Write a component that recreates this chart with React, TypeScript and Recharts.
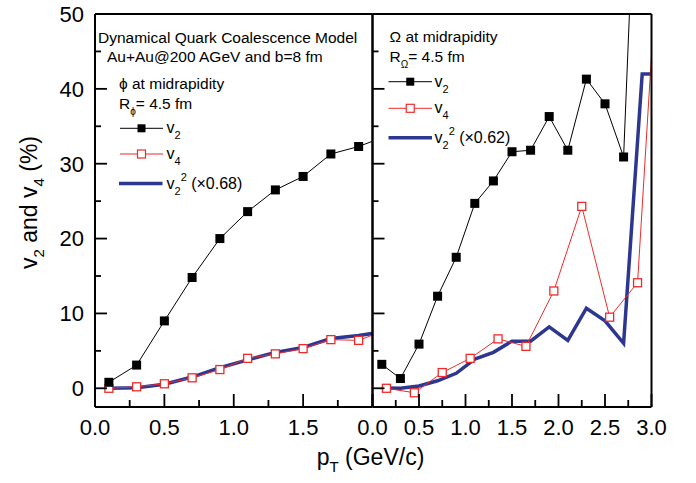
import React from 'react';
import { LineChart, Line, XAxis, YAxis, Legend } from 'recharts';

// phi meson (left panel)
const phiPt = [0.1, 0.3, 0.5, 0.7, 0.9, 1.1, 1.3, 1.5, 1.7, 1.9, 2.1];
const phiV2 = [0.8, 3.1, 9.0, 14.8, 20.0, 23.6, 26.5, 28.3, 31.3, 32.3, 33.7];
const phiV4 = [0.0, 0.2, 0.6, 1.4, 2.5, 4.0, 4.6, 5.3, 6.5, 6.4, 7.8];
const phiV2sq = [0.0, 0.07, 0.55, 1.5, 2.75, 3.8, 4.8, 5.45, 6.65, 7.05, 7.6];

// Omega baryon (right panel)
const omegaPtV2 = [0.1, 0.3, 0.5, 0.7, 0.9, 1.1, 1.3, 1.5, 1.7, 1.9, 2.1, 2.3, 2.5, 2.7, 2.9];
const omegaV2 = [3.2, 1.3, 5.9, 12.3, 17.5, 24.7, 27.7, 31.6, 31.8, 36.3, 31.8, 41.3, 38.0, 30.9, 92];
const omegaPtV2sq = [0.1, 0.3, 0.5, 0.7, 0.9, 1.1, 1.3, 1.5, 1.7, 1.9, 2.1, 2.3, 2.5, 2.7, 2.9, 3.1];
const omegaV2sq = [0.05, 0.0, 0.3, 1.0, 2.0, 3.9, 4.8, 6.3, 6.3, 8.2, 6.4, 10.7, 9.0, 6.0, 42, 42];
const omegaPtV4 = [0.15, 0.45, 0.75, 1.05, 1.35, 1.65, 1.95, 2.25, 2.55, 2.85, 3.15];
const omegaV4 = [0.0, -0.6, 2.1, 4.0, 6.6, 5.6, 13.0, 24.3, 9.5, 14.1, 75];

const yTicks = [0, 5, 10, 15, 20, 25, 30, 35, 40, 45, 50];
const phiXTicks = [0, 0.25, 0.5, 0.75, 1.0, 1.25, 1.5, 1.75, 2.0];
const omegaXTicks = [0, 0.25, 0.5, 0.75, 1.0, 1.25, 1.5, 1.75, 2.0, 2.25, 2.5, 2.75, 3.0];

const FONT = '"Liberation Sans", Arial, sans-serif';
const RED = '#ee2b2b';
const BLUE = '#2e3790';

const rows = (xs: number[], ys: number[]) => xs.map((x, i) => ({ pt: x, v: ys[i] }));

const isMajor = (v: number, step: number) => Math.abs(v / step - Math.round(v / step)) < 1e-6;

type Side = 'bottom' | 'top' | 'left' | 'right';

// inward tick marks, labels outside
const makeTick = (side: Side, step: number, majorLen: number, minorLen: number, label?: (v: number) => string | null) =>
  (props: any) => {
    const { x, y, payload } = props;
    const v = payload.value;
    const len = isMajor(v, step) ? majorLen : minorLen;
    let x2 = x, y2 = y;
    if (side === 'bottom') y2 = y - len;
    if (side === 'top') y2 = y + len;
    if (side === 'left') x2 = x + len;
    if (side === 'right') x2 = x - len;
    const txt = label && isMajor(v, step) ? label(v) : null;
    return (
      <g>
        <line x1={x} y1={y} x2={x2} y2={y2} stroke="#000" strokeWidth={1.8} />
        {txt != null && side === 'bottom' && (
          <text x={x} y={y + 28} textAnchor="middle" fontSize={22} fontFamily={FONT} fill="#000">{txt}</text>
        )}
        {txt != null && side === 'left' && (
          <text x={x - 11} y={y} dy="0.36em" textAnchor="end" fontSize={22} fontFamily={FONT} fill="#000">{txt}</text>
        )}
      </g>
    );
  };

const FilledSquare = (props: any) => {
  const { cx, cy } = props;
  if (cx == null || cy == null || isNaN(cy)) return null;
  return <rect x={cx - 4.5} y={cy - 4.5} width={9} height={9} fill="#000" />;
};

const OpenSquare = (props: any) => {
  const { cx, cy } = props;
  if (cx == null || cy == null || isNaN(cy)) return null;
  return <rect x={cx - 4} y={cy - 4} width={8} height={8} fill="#fff" stroke={RED} strokeWidth={1.3} />;
};

const YTitle = (props: any) => {
  const vb = props.viewBox;
  const cx = vb.x + 2;
  const cy = vb.y + vb.height / 2 - 8;
  return (
    <text transform={`rotate(-90, ${cx}, ${cy})`} x={cx} y={cy} textAnchor="middle" fontSize={23} fontFamily={FONT} fill="#000">
      v<tspan dy={7} fontSize={15}>2</tspan><tspan dy={-7}>{' and v'}</tspan><tspan dy={7} fontSize={15}>4</tspan><tspan dy={-7}>{' (%)'}</tspan>
    </text>
  );
};

const XTitle = (props: any) => {
  const vb = props.viewBox;
  const cx = vb.x + vb.width - 2;
  const cy = vb.y + 58;
  return (
    <text x={cx} y={cy} textAnchor="middle" fontSize={23} fontFamily={FONT} fill="#000">
      p<tspan dy={7} fontSize={15}>T</tspan><tspan dy={-7}>{' (GeV/c)'}</tspan>
    </text>
  );
};

// legend row samples: line + marker + label
const Sample = ({ x1, x2, y, kind }: { x1: number; x2: number; y: number; kind: 'v2' | 'v4' | 'sq' }) => {
  const mid = (x1 + x2) / 2;
  if (kind === 'sq') return <line x1={x1} x2={x2} y1={y} y2={y} stroke={BLUE} strokeWidth={3.5} />;
  return (
    <g>
      <line x1={x1} x2={x2} y1={y} y2={y} stroke={kind === 'v2' ? '#000' : RED} strokeWidth={1} />
      {kind === 'v2'
        ? <rect x={mid - 4} y={y - 4} width={8} height={8} fill="#000" />
        : <rect x={mid - 4} y={y - 4} width={8} height={8} fill="#fff" stroke={RED} strokeWidth={1.2} />}
    </g>
  );
};

const VLabel = ({ x, y, n, sq }: { x: number; y: number; n: string; sq?: string }) => (
  <text x={x} y={y} fontSize={16} fontFamily={FONT} fill="#000">
    v<tspan dy={6} fontSize={11}>{n}</tspan>
    {sq ? (<><tspan dy={-14} fontSize={11}>2</tspan><tspan dy={8}>{' (×' + sq + ')'}</tspan></>) : null}
  </text>
);

const PhiLegend = () => (
  <svg width={276} height={200} style={{ overflow: 'visible' }}>
    <g fontFamily={FONT} fontSize={15.5} fill="#000">
      <text x={3} y={28.5}>Dynamical Quark Coalescence Model</text>
      <text x={12} y={48}>Au+Au@200 AGeV and b=8 fm</text>
      <text x={24} y={74.5}>ϕ at midrapidity</text>
      <text x={24} y={94.5}>R<tspan dy={6} fontSize={10}>ϕ</tspan><tspan dy={-6}>= 4.5 fm</tspan></text>
    </g>
    <Sample x1={25} x2={68} y={114.3} kind="v2" />
    <VLabel x={71.5} y={119} n="2" />
    <Sample x1={25} x2={68} y={140} kind="v4" />
    <VLabel x={71.5} y={145} n="4" />
    <Sample x1={24} x2={67.5} y={169.5} kind="sq" />
    <VLabel x={71.5} y={174.5} n="2" sq="0.68" />
  </svg>
);

const OmegaLegend = () => (
  <svg width={276} height={200} style={{ overflow: 'visible' }}>
    <g fontFamily={FONT} fontSize={15.5} fill="#000">
      <text x={16.5} y={27.7}>Ω at midrapidity</text>
      <text x={16.5} y={47.7}>R<tspan dy={6} fontSize={10}>Ω</tspan><tspan dy={-6}>= 4.5 fm</tspan></text>
    </g>
    <Sample x1={15.5} x2={59} y={67.7} kind="v2" />
    <VLabel x={61.5} y={72.5} n="2" />
    <Sample x1={15.5} x2={59} y={94.3} kind="v4" />
    <VLabel x={61.5} y={99} n="4" />
    <Sample x1={15.5} x2={59} y={123.7} kind="sq" />
    <VLabel x={61.5} y={128.5} n="2" sq="0.62" />
  </svg>
);

const axisLine = { stroke: '#000', strokeWidth: 2 };
const yLabel = (v: number) => String(v);

export default function App() {
  return (
    <div style={{ position: 'absolute', left: 0, top: 0, width: 696, height: 483, background: '#fff' }}>
      <div style={{ position: 'absolute', left: 0, top: 0 }}>
        <LineChart width={696} height={483} margin={{ top: 4, right: 313.5, bottom: 36, left: 35 }}>
          <XAxis xAxisId="x" dataKey="pt" type="number" domain={[0, 2]} allowDataOverflow ticks={phiXTicks} interval={0}
            axisLine={axisLine} tickLine={false} tickSize={0} tickMargin={0} height={40}
            tick={makeTick('bottom', 0.5, 13, 7, (v) => (v < 1.99 ? v.toFixed(1) : null))}
            label={{ content: XTitle }} />
          <XAxis xAxisId="t" orientation="top" type="number" domain={[0, 2]} ticks={phiXTicks} interval={0}
            axisLine={axisLine} tickLine={false} tickSize={0} tickMargin={0} height={10}
            tick={makeTick('top', 0.5, 13, 7)} />
          <YAxis yAxisId="y" type="number" domain={[-2.5, 50]} allowDataOverflow ticks={yTicks} interval={0}
            axisLine={axisLine} tickLine={false} tickSize={0} tickMargin={0} width={60}
            tick={makeTick('left', 10, 12, 6, yLabel)}
            label={{ content: YTitle }} />
          <YAxis yAxisId="yr" orientation="right" type="number" domain={[-2.5, 50]} ticks={yTicks} interval={0}
            axisLine={axisLine} tickLine={false} tickSize={0} tickMargin={0} width={10}
            tick={makeTick('right', 10, 12, 6)} />
          <Line xAxisId="x" yAxisId="y" data={rows(phiPt, phiV2sq)} dataKey="v" stroke={BLUE} strokeWidth={3.5}
            dot={false} type="linear" isAnimationActive={false} />
          <Line xAxisId="x" yAxisId="y" data={rows(phiPt, phiV4)} dataKey="v" stroke={RED} strokeWidth={1}
            dot={OpenSquare} type="linear" isAnimationActive={false} />
          <Line xAxisId="x" yAxisId="y" data={rows(phiPt, phiV2)} dataKey="v" stroke="#000" strokeWidth={1}
            dot={FilledSquare} type="linear" isAnimationActive={false} />
          <Legend layout="vertical" align="center" verticalAlign="middle" content={PhiLegend}
            wrapperStyle={{ left: 95, top: 14, width: 276, height: 200 }} />
        </LineChart>
      </div>
      <div style={{ position: 'absolute', left: 0, top: 0 }}>
        <LineChart width={696} height={483} margin={{ top: 4, right: 34.5, bottom: 36, left: 362.5 }}>
          <XAxis xAxisId="x" dataKey="pt" type="number" domain={[0, 3]} allowDataOverflow ticks={omegaXTicks} interval={0}
            axisLine={axisLine} tickLine={false} tickSize={0} tickMargin={0} height={40}
            tick={makeTick('bottom', 0.5, 13, 7, (v) => v.toFixed(1))} />
          <XAxis xAxisId="t" orientation="top" type="number" domain={[0, 3]} ticks={omegaXTicks} interval={0}
            axisLine={axisLine} tickLine={false} tickSize={0} tickMargin={0} height={10}
            tick={makeTick('top', 0.5, 13, 7)} />
          <YAxis yAxisId="y" type="number" domain={[-2.5, 50]} allowDataOverflow ticks={yTicks} interval={0}
            axisLine={axisLine} tickLine={false} tickSize={0} tickMargin={0} width={10}
            tick={makeTick('left', 10, 12, 6)} />
          <YAxis yAxisId="yr" orientation="right" type="number" domain={[-2.5, 50]} ticks={yTicks} interval={0}
            axisLine={axisLine} tickLine={false} tickSize={0} tickMargin={0} width={10}
            tick={makeTick('right', 10, 12, 6)} />
          <Line xAxisId="x" yAxisId="y" data={rows(omegaPtV2sq, omegaV2sq)} dataKey="v" stroke={BLUE} strokeWidth={3.5}
            dot={false} type="linear" isAnimationActive={false} />
          <Line xAxisId="x" yAxisId="y" data={rows(omegaPtV4, omegaV4)} dataKey="v" stroke={RED} strokeWidth={1}
            dot={OpenSquare} type="linear" isAnimationActive={false} />
          <Line xAxisId="x" yAxisId="y" data={rows(omegaPtV2, omegaV2)} dataKey="v" stroke="#000" strokeWidth={1}
            dot={FilledSquare} type="linear" isAnimationActive={false} />
          <Legend layout="vertical" align="center" verticalAlign="middle" content={OmegaLegend}
            wrapperStyle={{ left: 372.5, top: 14, width: 276, height: 200 }} />
        </LineChart>
      </div>
    </div>
  );
}
